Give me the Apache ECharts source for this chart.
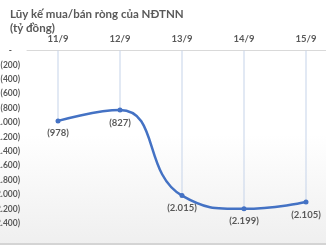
<!DOCTYPE html>
<html><head><meta charset="utf-8">
<script src="https://cdn.jsdelivr.net/npm/echarts@6/dist/echarts.min.js"></script>
<style>html,body{margin:0;padding:0;background:#fff}#c{width:326px;height:245px}</style>
</head><body><div id="c"></div>
<script>
const categories = ['11/9','12/9','13/9','14/9','15/9'];
const values = [-978, -827, -2015, -2199, -2105];
const yTicks = [0,-200,-400,-600,-800,-1000,-1200,-1400,-1600,-1800,-2000,-2200,-2400];
const titleLines = ['Lũy kế mua/bán ròng của NĐTNN','(tỷ đồng)'];

function fmt(v){
  if (v === 0) return '-';
  const a = Math.abs(v).toString().replace(/\B(?=(\d{3})+(?!\d))/g,'.');
  return '(' + a + ')';
}
const chart = echarts.init(document.getElementById('c'));
const font = 'Lato, "Open Sans", sans-serif';
chart.setOption({
  animation:false,
  backgroundColor:{ type:'linear', x:0, y:0, x2:0, y2:1,
    colorStops:[{offset:0,color:'#ffffff'},{offset:0.55,color:'#ffffff'},{offset:1,color:'#efefef'}] },
  graphic:[{ type:'rect', left:0, top:243, shape:{ width:326, height:2 }, style:{ fill:'#d4d4d4' }, silent:true }],
  title:{ text: titleLines.join('\n'), left:5, top:2,
    textStyle:{ fontFamily:font, fontSize:11.5, fontWeight:'bold', color:'#595959', lineHeight:14 } },
  grid:{ left:27, right:-11, top:50.5, bottom:21.7, outerBoundsMode:'none', containLabel:false },
  xAxis:{ type:'category', data:categories, position:'top',
    axisLine:{ show:true, lineStyle:{ color:'#d9d9d9', width:1 } },
    axisTick:{ show:false },
    axisLabel:{ fontFamily:font, fontSize:9.5, fontWeight:'bold', color:'#595959', margin:7 },
    splitLine:{ show:false } },
  yAxis:{ type:'value', min:-2400, max:0, interval:200,
    axisLine:{ show:false }, axisTick:{ show:false }, splitLine:{ show:false },
    axisLabel:{ fontFamily:font, fontSize:8.5, fontWeight:'bold', color:'#595959', margin:7,
      formatter: v => v === 0 ? '{z|-}' : fmt(v),
      rich:{ z:{ fontFamily:font, fontSize:8.5, fontWeight:'bold', color:'#595959', padding:[0,8,0,0] } } } },
  series:[
    { type:'bar', data:values, barWidth:1, itemStyle:{ color:'#c5d3ea' }, silent:true, z:1 },
    { type:'line', data:values, smooth:0.5, symbol:'circle', symbolSize:5,
      lineStyle:{ color:'#4472c4', width:2.5 }, itemStyle:{ color:'#4472c4' }, z:3,
      label:{ show:true, position:'bottom', distance:5, formatter: p => fmt(p.value),
        fontFamily:font, fontSize:9.5, fontWeight:'bold', color:'#595959' } }
  ]
});
</script></body></html>
